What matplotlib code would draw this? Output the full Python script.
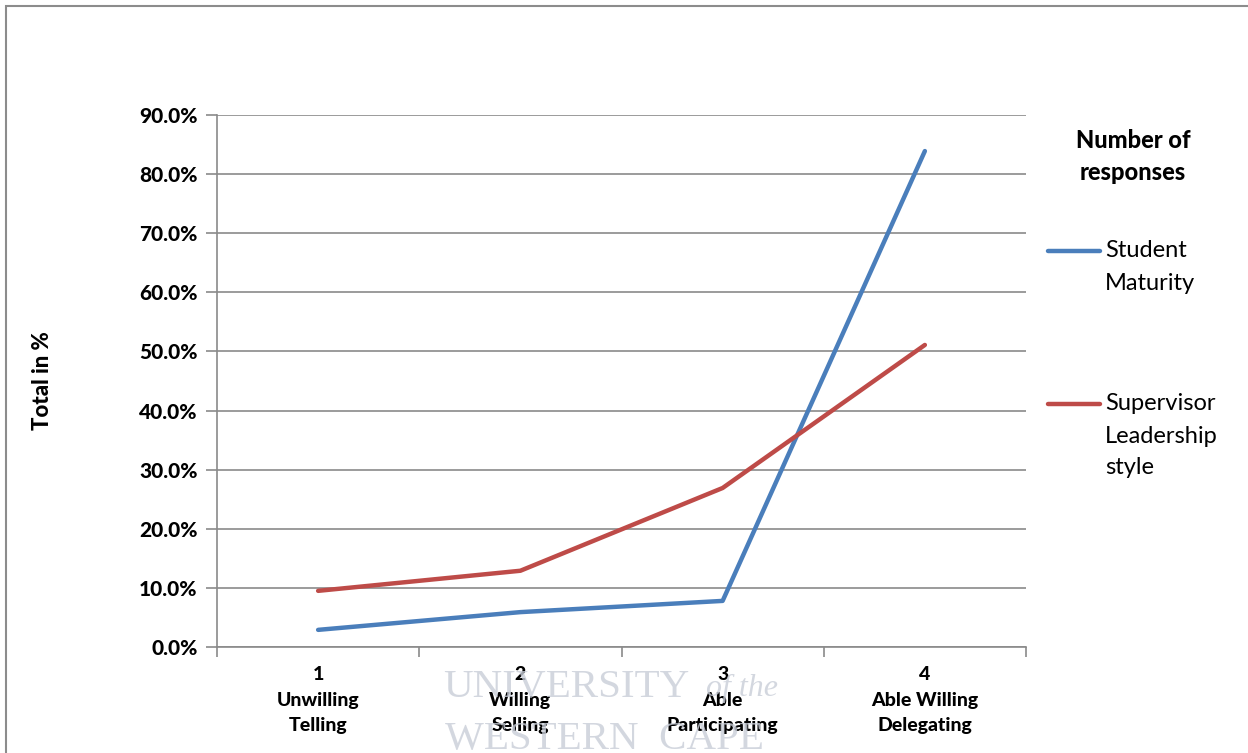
import matplotlib
matplotlib.use("Agg")
import matplotlib.pyplot as plt
from matplotlib.lines import Line2D
from matplotlib.patches import Rectangle

# Response shares per maturity / leadership level
levels = [1, 2, 3, 4]
level_labels = ["1\nUnwilling\nTelling", "2\nWilling\nSelling", "3\nAble\nParticipating", "4\nAble Willing\nDelegating"]
student_maturity = [2.9, 5.9, 7.8, 83.9]
supervisor_style = [9.5, 12.9, 26.9, 51.1]
y_ticks = [0, 10, 20, 30, 40, 50, 60, 70, 80, 90]

plt.rcParams["font.family"] = ["Lato", "DejaVu Sans"]

W, H = 1248, 753
fig = plt.figure(figsize=(W / 100, H / 100), dpi=100)
fig.patch.set_facecolor("white")

# outer chart frame
fig.add_artist(Rectangle((6 / W, -0.05), 1.2, 1 - 6 / H + 0.05, transform=fig.transFigure,
                         fill=False, edgecolor="#8c8c8c", linewidth=1.5))

left, right, top, bottom = 217, 1026, 115, 647
ax = fig.add_axes([left / W, 1 - bottom / H, (right - left) / W, (bottom - top) / H])

grid_col = "#8a8a8a"
ax.set_ylim(0, 90)
ax.set_xlim(0.5, 4.5)
ax.set_yticks(y_ticks)
ax.set_yticklabels([f"{v:.1f}%" for v in y_ticks], fontsize=15, fontweight=900)
ax.yaxis.grid(True, color=grid_col, linewidth=1.2)
ax.set_axisbelow(True)

ax.set_xticks(levels)
ax.set_xticklabels(level_labels, fontsize=14, fontweight=900, linespacing=1.6)
ax.set_xticks([0.5, 1.5, 2.5, 3.5, 4.5], minor=True)
ax.tick_params(axis="x", which="major", length=0, pad=14)
ax.tick_params(axis="x", which="minor", length=7, color=grid_col, width=1.2)
ax.tick_params(axis="y", length=8, color=grid_col, width=1.2, pad=6)

for s in ["top", "right"]:
    ax.spines[s].set_visible(False)
for s in ["left", "bottom"]:
    ax.spines[s].set_color(grid_col)
    ax.spines[s].set_linewidth(1.2)

ax.set_ylabel("Total in %", fontsize=16, fontweight=900)
ax.yaxis.set_label_coords(-0.203, 0.5)

blue = "#4a7ebb"
red = "#be4b48"
ax.plot(levels, student_maturity, color=blue, linewidth=3.2, solid_capstyle="round")
ax.plot(levels, supervisor_style, color=red, linewidth=3.2, solid_capstyle="round")

# faint institutional watermark
serif = ["Liberation Serif", "DejaVu Serif"]
wm = dict(fontsize=29.5, family=serif, color="#c9ced8", alpha=0.8,
          ha="left", va="center", transform=fig.transFigure, zorder=0)
fig.text(443 / W, 1 - 688 / H, "UNIVERSITY", **wm)
fig.text(706 / W, 1 - 688 / H, "of the", fontsize=23, style="italic", family=serif,
         color="#c9ced8", alpha=0.8, ha="left", va="center",
         transform=fig.transFigure, zorder=0)
fig.text(445 / W, 1 - 740 / H, "WESTERN  CAPE", **wm)

# legend
for i, t in enumerate(["Number of", "responses"]):
    fig.text(1133 / W, 1 - (140 + 32 * i) / H, t, fontsize=17, fontweight=900,
             ha="center", va="center")
for y, col, lines in [(251, blue, ["Student", "Maturity"]),
                      (404, red, ["Supervisor", "Leadership", "style"])]:
    fig.add_artist(Line2D([1048 / W, 1100 / W], [1 - y / H, 1 - y / H], color=col,
                          linewidth=3.2, solid_capstyle="round", transform=fig.transFigure))
    for i, t in enumerate(lines):
        fig.text(1105 / W, 1 - (y + 32 * i) / H, t, fontsize=17, ha="left", va="center")

fig.savefig("out.png", dpi=100)
